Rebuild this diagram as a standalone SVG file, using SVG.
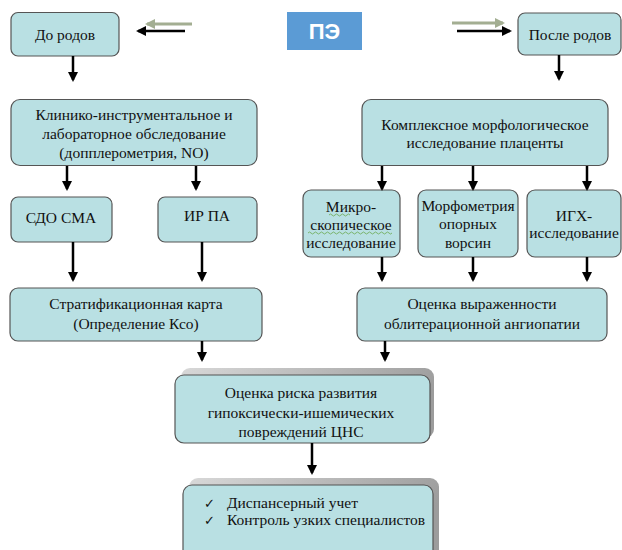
<svg xmlns="http://www.w3.org/2000/svg" width="622" height="550" viewBox="0 0 622 550" font-family="Liberation Serif, serif">
<defs>
<marker id="ah" markerWidth="10" markerHeight="10" refX="8" refY="5" orient="auto" markerUnits="userSpaceOnUse" viewBox="0 0 10 10">
<path d="M0,0 L10,5 L0,10 Z" fill="#000"/>
</marker>
<marker id="ahg" markerWidth="10" markerHeight="10" refX="8" refY="5" orient="auto" markerUnits="userSpaceOnUse" viewBox="0 0 10 10">
<path d="M0,0 L10,5 L0,10 Z" fill="#a3ae92"/>
</marker>
<linearGradient id="sh" x1="0" y1="0" x2="1" y2="0.3">
<stop offset="0" stop-color="#d8d8d8"/>
<stop offset="1" stop-color="#9c9c9c"/>
</linearGradient>
</defs>
<style>
.box{fill:#b9e0e3;stroke:#555;stroke-width:1.2}
.shadow{fill:url(#sh)}
.t{font-size:15.5px;fill:#111;text-anchor:middle}
.tl{font-size:15.5px;fill:#111}
.ck{font-size:13px;fill:#111}
.c{stroke:#000;stroke-width:2.5;fill:none;marker-end:url(#ah)}
.g{stroke:#a3ae92;stroke-width:3;fill:none;marker-end:url(#ahg)}
</style>
<rect width="622" height="550" fill="#fff"/>

<g id="pe">
<rect x="287" y="12" width="75" height="38" fill="#5b9bd5"/>
<text x="324.5" y="39" font-family="Liberation Sans, sans-serif" font-size="22" font-weight="bold" fill="#fff" text-anchor="middle">ПЭ</text>
</g>

<g id="do-rodov" font-family="Liberation Serif, serif">
<rect class="box" x="11" y="12.5" width="108" height="43.5" rx="7"/>
<text class="t" x="65" y="40">До родов</text>
</g>

<g id="posle-rodov" font-family="Liberation Serif, serif">
<rect class="box" x="518" y="13" width="103" height="42" rx="7"/>
<text class="t" x="570" y="40">После родов</text>
</g>

<g id="kliniko" font-family="Liberation Serif, serif">
<rect class="box" x="11" y="99.5" width="246" height="66" rx="9"/>
<text class="t" x="134" y="120">Клинико-инструментальное и</text>
<text class="t" x="134" y="139">лабораторное обследование</text>
<text class="t" x="134" y="158">(допплерометрия, NO)</text>
</g>

<g id="kompleks" font-family="Liberation Serif, serif">
<rect class="box" x="362" y="99.5" width="246" height="66" rx="9"/>
<text class="t" x="485" y="130">Комплексное морфологическое</text>
<text class="t" x="485" y="148">исследование плаценты</text>
</g>

<g id="sdo" font-family="Liberation Serif, serif">
<rect class="box" x="11" y="197" width="101" height="45" rx="7"/>
<text class="t" x="61" y="223">СДО СМА</text>
</g>

<g id="irpa" font-family="Liberation Serif, serif">
<rect class="box" x="158" y="197" width="99" height="45" rx="7"/>
<text class="t" x="207" y="221">ИР ПА</text>
</g>

<g id="mikro" font-family="Liberation Serif, serif">
<rect class="box" x="303" y="190" width="97" height="67" rx="8"/>
<text class="t" x="351" y="212">Микро-</text>
<text class="t" x="351" y="230">скопическое</text>
<text class="t" x="351" y="248">исследование</text>
<path d="M329,215 q1.5,-2 3,0 t3,0 t3,0 t3,0 t3,0 t3,0 t3,0 M308,233 q1.5,-2 3,0 t3,0 t3,0 t3,0 t3,0 t3,0 t3,0 t3,0 t3,0 t3,0 t3,0 t3,0 t3,0 t3,0 t3,0 t3,0 t3,0 t3,0 t3,0 t3,0 t3,0 t3,0 t3,0 t3,0 t3,0 t3,0 t3,0 t3,0" fill="none" stroke="#6aa84f" stroke-width="0.8"/>
</g>

<g id="morfometria" font-family="Liberation Serif, serif">
<rect class="box" x="418" y="190" width="100" height="67" rx="8"/>
<text class="t" x="468" y="211">Морфометрия</text>
<text class="t" x="468" y="229">опорных</text>
<text class="t" x="468" y="248">ворсин</text>
</g>

<g id="igh" font-family="Liberation Serif, serif">
<rect class="box" x="527" y="190" width="94" height="67" rx="8"/>
<text class="t" x="574" y="221">ИГХ-</text>
<text class="t" x="574" y="238">исследование</text>
</g>

<g id="strat" font-family="Liberation Serif, serif">
<rect class="box" x="10" y="288" width="252" height="53" rx="8"/>
<text class="t" x="136" y="309">Стратификационная карта</text>
<text class="t" x="136" y="329">(Определение Ксо)</text>
</g>

<g id="ocenka" font-family="Liberation Serif, serif">
<rect class="box" x="357" y="288" width="250" height="53" rx="8"/>
<text class="t" x="482" y="309">Оценка выраженности</text>
<text class="t" x="482" y="329">облитерационной ангиопатии</text>
</g>

<g id="risk" font-family="Liberation Serif, serif">
<rect class="shadow" x="181" y="368" width="253" height="70" rx="9"/>
<rect class="box" x="175" y="375" width="255" height="68" rx="9"/>
<text class="t" x="301" y="398">Оценка риска развития</text>
<text class="t" x="301" y="418">гипоксически-ишемических</text>
<text class="t" x="301" y="437">повреждений ЦНС</text>
</g>

<g id="dispanser" font-family="Liberation Serif, serif">
<rect class="shadow" x="189" y="478" width="250" height="80" rx="9"/>
<rect class="box" x="183" y="485" width="250" height="75" rx="9"/>
<text class="ck" x="204" y="508" font-family="DejaVu Sans, sans-serif">✓</text>
<text class="tl" x="227" y="508">Диспансерный учет</text>
<text class="ck" x="204" y="525" font-family="DejaVu Sans, sans-serif">✓</text>
<text class="tl" x="227" y="525">Контроль узких специалистов</text>
</g>

<g id="connectors">
<line class="g" x1="192" y1="24" x2="147" y2="24"/>
<line class="c" x1="185" y1="31" x2="138" y2="31"/>
<line class="g" x1="452" y1="23" x2="503" y2="23"/>
<line class="c" x1="457" y1="31" x2="510" y2="31"/>
<line class="c" x1="73" y1="56" x2="73" y2="80"/>
<line class="c" x1="559" y1="55" x2="559" y2="79"/>
<line class="c" x1="67" y1="166" x2="67" y2="189"/>
<line class="c" x1="196" y1="166" x2="196" y2="189"/>
<line class="c" x1="382" y1="166" x2="382" y2="189"/>
<line class="c" x1="473" y1="166" x2="473" y2="189"/>
<line class="c" x1="587" y1="166" x2="587" y2="189"/>
<line class="c" x1="73" y1="242" x2="73" y2="280"/>
<line class="c" x1="202" y1="242" x2="202" y2="280"/>
<line class="c" x1="382" y1="257" x2="382" y2="280"/>
<line class="c" x1="473" y1="257" x2="473" y2="280"/>
<line class="c" x1="587" y1="257" x2="587" y2="280"/>
<line class="c" x1="202" y1="341" x2="202" y2="360"/>
<line class="c" x1="385" y1="341" x2="385" y2="360"/>
<line class="c" x1="312" y1="443" x2="312" y2="473"/>
</g>
</svg>
